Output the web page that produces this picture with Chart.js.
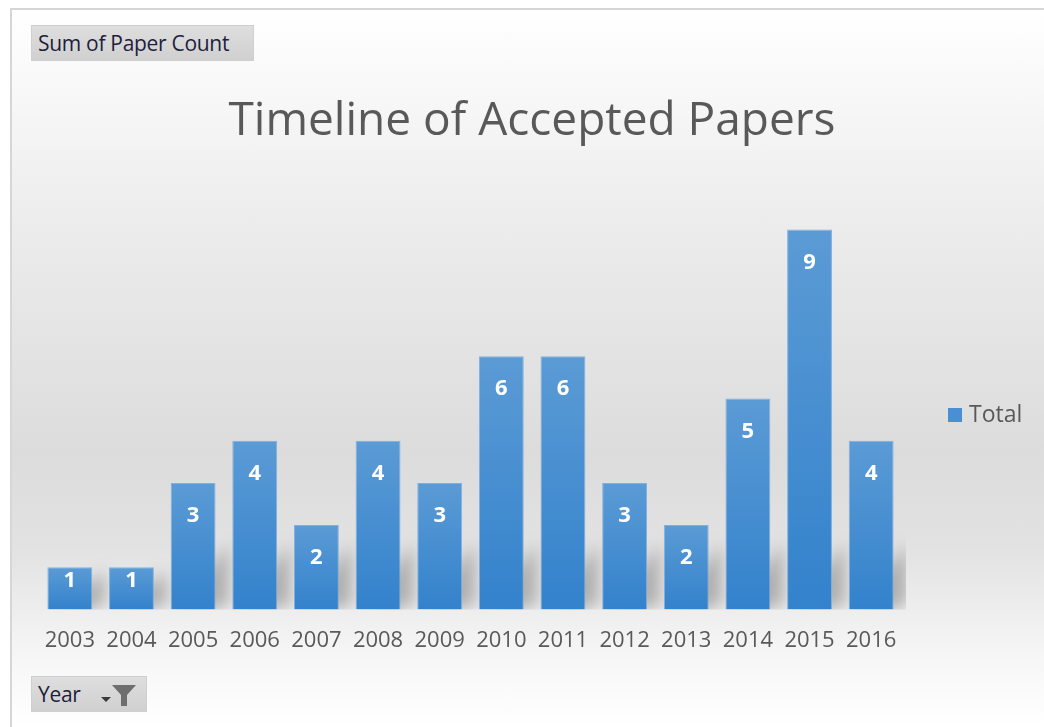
<!DOCTYPE html>
<html>
<head>
<meta charset="utf-8">
<script src="https://cdn.jsdelivr.net/npm/chart.js@4.4.1/dist/chart.umd.min.js"></script>
<style>
  html, body { margin: 0; padding: 0; background: #fff; }
  #wrap { position: relative; width: 1044px; height: 727px; overflow: hidden; font-family: "Open Sans", sans-serif; }
  #frame {
    position: absolute; left: 10px; top: 8px; right: 0; bottom: 0;
    border-left: 2px solid #d6d6d6; border-top: 2px solid #d6d6d6;
    background: linear-gradient(to bottom, #ffffff 0%, #ececec 30%, #dcdcdc 62%, #e2e2e2 75%, #f6f6f6 90%, #ffffff 100%);
  }
  #chart { position: absolute; left: 0; top: 0; }
  .btn {
    position: absolute; background: linear-gradient(to bottom, #dedede, #d0d0d0);
    border: 1px solid #cfcfcf; color: #1e1e3c; font-size: 21px; line-height: 34px;
    padding: 0 6px; box-sizing: border-box; height: 36px; letter-spacing: -0.3px;
  }
  #sum { left: 31px; top: 25px; width: 223px; }
  #year { left: 31px; top: 676px; width: 116px; }
  #year svg { position: absolute; left: 66px; top: 5px; }
  #legend { position: absolute; left: 948px; top: 397px; font-size: 23px; line-height: 32px; color: #595959; }
  #legend span { display: inline-block; width: 14px; height: 14px; background: #4a8fd3; margin-right: 7px; vertical-align: 0px; }
</style>
</head>
<body>
<div id="wrap">
  <div id="frame"></div>
  <canvas id="chart" width="1044" height="727"></canvas>
  <div id="sum" class="btn">Sum of Paper Count</div>
  <div id="year" class="btn">Year
    <svg width="44" height="26" viewBox="0 0 44 26">
      <polygon points="3,15 13,15 8,20" fill="#3a3a3a"/>
      <polygon points="14,3 38,3 29,13 29,24 23,24 23,13" fill="#6e6e6e"/>
    </svg>
  </div>
  <div id="legend"><span></span>Total</div>
</div>
<script>
const YEARS = ["2003", "2004", "2005", "2006", "2007", "2008", "2009", "2010", "2011", "2012", "2013", "2014", "2015", "2016"];
const PAPER_COUNTS = [1, 1, 3, 4, 2, 4, 3, 6, 6, 3, 2, 5, 9, 4];
const CHART_TITLE = 'Timeline of Accepted Papers';
const SERIES_NAME = 'Total';

const FONT = '"Open Sans", sans-serif';

function barGradient(context) {
  const chart = context.chart;
  const yScale = chart.scales.y;
  if (!yScale || context.type !== 'data') return '#4a8fd3';
  const value = context.parsed ? context.parsed.y : 0;
  const top = yScale.getPixelForValue(value);
  const bottom = yScale.getPixelForValue(0);
  if (!isFinite(top) || !isFinite(bottom) || top === bottom) return '#4a8fd3';
  const g = chart.ctx.createLinearGradient(0, top, 0, bottom);
  g.addColorStop(0, '#5b9bd5');
  g.addColorStop(1, '#3382cc');
  return g;
}

// soft shadow at the foot of each bar
const barShadows = {
  id: 'barShadows',
  beforeDatasetsDraw(chart) {
    const ctx = chart.ctx;
    const meta = chart.getDatasetMeta(0);
    ctx.save();
    ctx.beginPath();
    ctx.rect(chart.chartArea.left, 0, chart.chartArea.right - chart.chartArea.left + 4, chart.chartArea.bottom);
    ctx.clip();
    ctx.filter = 'blur(8px)';
    meta.data.forEach((bar) => {
      const half = bar.width / 2;
      const base = bar.base;
      const h = Math.min(72, base - bar.y);
      ctx.fillStyle = 'rgba(80,80,80,0.38)';
      ctx.beginPath();
      ctx.moveTo(bar.x - half + 6, base);
      ctx.lineTo(bar.x + half + 12, base - h * 0.9);
      ctx.lineTo(bar.x + half + 14, base - 6);
      ctx.lineTo(bar.x + half, base);
      ctx.closePath();
      ctx.fill();
    });
    ctx.restore();
  }
};

const valueLabels = {
  id: 'valueLabels',
  afterDatasetsDraw(chart) {
    const ctx = chart.ctx;
    const meta = chart.getDatasetMeta(0);
    ctx.save();
    ctx.fillStyle = '#ffffff';
    ctx.font = 'bold 22px ' + FONT;
    ctx.textAlign = 'center';
    ctx.textBaseline = 'middle';
    meta.data.forEach((bar, i) => {
      const h = bar.base - bar.y;
      const off = Math.min(33, h / 2 - 8);
      ctx.fillText(String(PAPER_COUNTS[i]), bar.x, bar.y + off);
    });
    ctx.restore();
  }
};

const paperChart = new Chart(document.getElementById('chart'), {
  type: 'bar',
  data: {
    labels: YEARS,
    datasets: [{
      label: SERIES_NAME,
      data: PAPER_COUNTS,
      backgroundColor: barGradient,
      borderColor: 'rgba(120,170,225,0.9)',
      borderWidth: 1,
      barPercentage: 0.8,
      categoryPercentage: 0.91
    }]
  },
  options: {
    responsive: false,
    animation: false,
    layout: {
      padding: { left: 20, right: 0, top: 0, bottom: 55 }
    },
    plugins: {
      legend: { display: false },
      tooltip: { enabled: false },
      title: {
        display: true,
        text: CHART_TITLE,
        color: '#595959',
        font: { family: FONT, size: 46, weight: 'normal' },
        padding: { top: 94, bottom: 38 }
      }
    },
    scales: {
      x: {
        grid: { display: false, drawTicks: false },
        border: { display: false },
        ticks: {
          color: '#595959',
          padding: 18,
          font: { family: FONT, size: 22 }
        }
      },
      y: {
        position: 'left',
        min: 0,
        max: 10,
        grid: { display: false, drawTicks: false },
        border: { display: false },
        ticks: { display: false },
        afterFit: (scale) => { scale.width = 19; }
      },
      yRight: {
        position: 'right',
        min: 0,
        max: 10,
        grid: { display: false, drawTicks: false },
        border: { display: false },
        ticks: { display: false },
        afterFit: (scale) => { scale.width = 142; }
      }
    }
  },
  plugins: [barShadows, valueLabels]
});
</script>
</body>
</html>
